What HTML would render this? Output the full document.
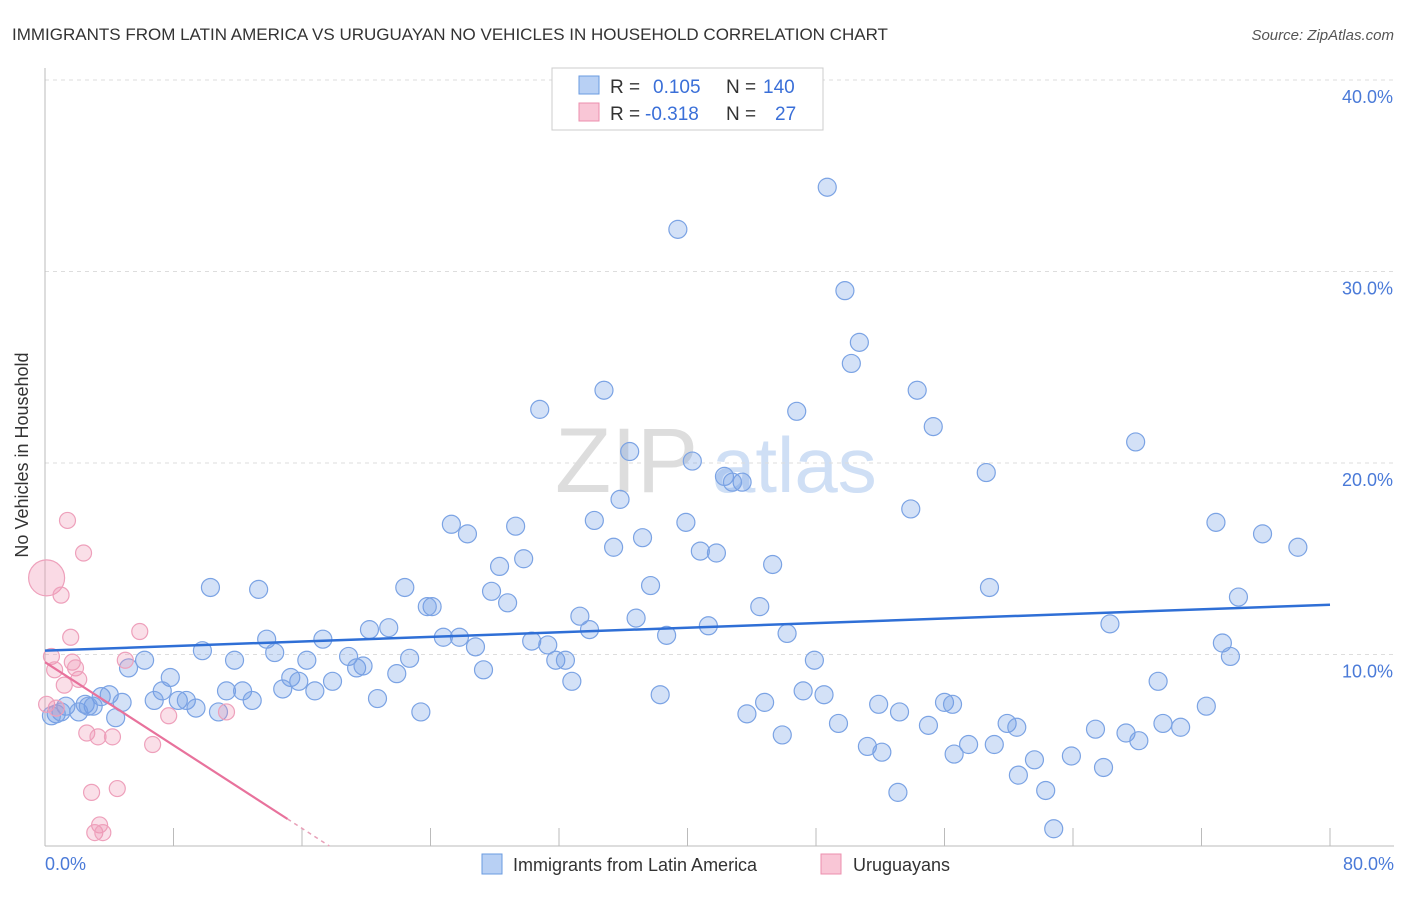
<!DOCTYPE html>
<html><head><meta charset="utf-8">
<style>
body{margin:0;background:#fff;font-family:"Liberation Sans",sans-serif;}
svg text{font-family:"Liberation Sans",sans-serif;}
</style></head>
<body>
<svg id="chart" width="1406" height="892" xmlns="http://www.w3.org/2000/svg">
<text x="12" y="40" font-size="17" fill="#333">IMMIGRANTS FROM LATIN AMERICA VS URUGUAYAN NO VEHICLES IN HOUSEHOLD CORRELATION CHART</text>
<text x="1394" y="40" font-size="15" fill="#555" text-anchor="end" font-style="italic">Source: ZipAtlas.com</text>
<text x="555" y="492" font-size="92" fill="#ddd" font-family="Liberation Serif">ZIP</text>
<text x="712" y="492" font-size="78" fill="#cfdff5">atlas</text>
<g id="grid"></g>
<g id="axes"></g>
<g id="pts"></g>
<g id="trends"></g>
<text x="28" y="455" font-size="18" fill="#333" text-anchor="middle" transform="rotate(-90 28 455)">No Vehicles in Household</text>
<text x="45" y="870" font-size="18" fill="#4a7ad8">0.0%</text>
<text x="1394" y="870" font-size="18" fill="#4a7ad8" text-anchor="end">80.0%</text>
<g>
<rect x="552" y="68" width="271" height="62" fill="#fff" stroke="#ccc"/>
<rect x="579" y="76" width="20" height="18" fill="#b8d0f4" stroke="#6a9be0"/>
<rect x="579" y="103" width="20" height="18" fill="#f9c6d6" stroke="#ec8fae"/>
<text x="610" y="93" font-size="19" fill="#333">R = </text><text x="653" y="93" font-size="19" fill="#3a6fd8">0.105</text>
<text x="726" y="93" font-size="19" fill="#333">N = </text><text x="763" y="93" font-size="19" fill="#3a6fd8">140</text>
<text x="610" y="120" font-size="19" fill="#333">R = </text><text x="645" y="120" font-size="19" fill="#3a6fd8">-0.318</text>
<text x="726" y="120" font-size="19" fill="#333">N = </text><text x="775" y="120" font-size="19" fill="#3a6fd8">27</text>
</g>
<g>
<rect x="482" y="854" width="20" height="20" fill="#b8d0f4" stroke="#6a9be0"/>
<text x="513" y="871" font-size="18" fill="#333">Immigrants from Latin America</text>
<rect x="821" y="854" width="20" height="20" fill="#f9c6d6" stroke="#ec8fae"/>
<text x="853" y="871" font-size="18" fill="#333">Uruguayans</text>
</g>
</svg>
<script>
const yTicks=[10,20,30,40];
const xTickCount=10;
const blueX=[48.7,39.4,49.8,50.7,50.2,54.3,34.8,46.8,30.8,55.3,67.9,36.4,40.3,42.3,43.4,42.8,58.6,35.8,53.9,25.3,26.3,29.3,34.2,39.9,72.9,75.8,78.0,37.2,35.4,40.8,41.8,29.8,28.3,45.3,22.4,10.3,13.3,37.7,58.8,27.8,24.1,23.8,28.8,74.3,44.5,33.3,36.8,21.4,20.2,33.9,41.3,66.3,13.8,17.3,24.8,25.8,30.3,38.7,46.2,26.8,31.3,73.3,9.8,14.3,18.9,73.8,11.8,16.3,19.4,19.8,22.7,31.8,32.4,47.9,6.2,5.2,27.3,21.9,7.8,15.3,15.8,17.9,32.8,69.3,7.3,11.3,12.3,14.8,16.8,47.2,48.5,38.3,20.7,6.8,8.3,8.8,12.9,3.5,4.0,4.8,2.5,3.0,1.3,0.7,1.0,9.4,10.8,23.4,44.8,51.9,53.2,56.0,56.5,43.7,72.3,69.6,70.7,59.9,60.5,55.0,49.4,45.9,65.4,67.3,68.1,57.5,59.1,51.2,52.1,56.6,61.6,63.9,65.9,60.6,53.1,62.3,62.8,4.4,0.4,2.1,2.7];
const blueY=[34.4,32.2,29.0,26.3,25.2,23.8,23.8,22.7,22.8,21.9,21.1,20.6,20.1,19.3,19.0,19.0,19.5,18.1,17.6,16.8,16.3,16.7,17.0,16.9,16.9,16.3,15.6,16.1,15.6,15.4,15.3,15.0,14.6,14.7,13.5,13.5,13.4,13.6,13.5,13.3,12.5,12.5,12.7,13.0,12.5,12.0,11.9,11.4,11.3,11.3,11.5,11.6,10.8,10.8,10.9,10.9,10.7,11.0,11.1,10.4,10.5,10.6,10.2,10.1,9.9,9.9,9.7,9.7,9.3,9.4,9.8,9.7,9.7,9.7,9.7,9.3,9.2,9.0,8.8,8.8,8.6,8.6,8.6,8.6,8.1,8.1,8.1,8.2,8.1,8.1,7.9,7.9,7.7,7.6,7.6,7.6,7.6,7.8,7.9,7.5,7.4,7.3,7.3,6.9,7.0,7.2,7.0,7.0,7.5,7.4,7.0,7.5,7.4,6.9,7.3,6.4,6.2,6.4,6.2,6.3,6.4,5.8,6.1,5.9,5.5,5.3,5.3,5.2,4.9,4.8,4.5,4.7,4.1,3.7,2.8,2.9,0.9,6.7,6.8,7.0,7.3];
const pinkX=[1.4,2.4,1.0,1.6,5.9,0.4,1.7,1.9,0.6,5.0,2.1,1.2,0.1,0.7,7.7,11.3,2.6,3.3,4.2,6.7,2.9,4.5,3.4,3.1,3.6];
const pinkY=[17.0,15.3,13.1,10.9,11.2,9.9,9.6,9.3,9.2,9.7,8.7,8.4,7.4,7.2,6.8,7.0,5.9,5.7,5.7,5.3,2.8,3.0,1.1,0.7,0.7];
const bigPink=[0.1,14.0];
const blueTrend=[10.2,12.6];
const pinkTrend=[9.6,-0.318];
const X0=45,X1=1330,Y0=846,Y1=80;
const sx=v=>X0+v/80*(X1-X0);
const sy=v=>Y0-v/40*(Y0-Y1);
const NS="http://www.w3.org/2000/svg";
function mk(tag,attrs,parent){const e=document.createElementNS(NS,tag);for(const k in attrs)e.setAttribute(k,attrs[k]);document.getElementById(parent).appendChild(e);return e;}
yTicks.forEach(t=>{
 const g=mk('line',{x1:45,x2:1394,y1:sy(t),y2:sy(t),stroke:'#ddd','stroke-dasharray':'4,4'},'grid');
 
 
 const l=mk('text',{x:1393,y:sy(t)+23,'font-size':18,fill:'#4a7ad8','text-anchor':'end'},'grid');
 l.textContent=t.toFixed(1)+'%';
 
 
});
const ax=mk('line',{x1:45,x2:45,y1:68,y2:846,stroke:'#bbb'},'axes');


const bx=mk('line',{x1:45,x2:1394,y1:846,y2:846,stroke:'#bbb'},'axes');


for(let i=0;i<=xTickCount;i++){
 const v=i*80/xTickCount;
 const t=mk('line',{x1:sx(v),x2:sx(v),y1:828,y2:846,stroke:'#bbb'},'axes');
 
 
}
blueX.forEach((x,i)=>{
 const c=mk('circle',{cx:sx(x),cy:sy(blueY[i]),r:9,fill:'rgba(110,155,230,0.3)',stroke:'#7ba3e4','stroke-width':1.2},'pts');
 
 
});
const bp=mk('circle',{cx:sx(bigPink[0]),cy:sy(bigPink[1]),r:18,fill:'rgba(240,150,180,0.35)',stroke:'#eea0bb','stroke-width':1.2},'pts');


pinkX.forEach((x,i)=>{
 const c=mk('circle',{cx:sx(x),cy:sy(pinkY[i]),r:8,fill:'rgba(240,150,180,0.3)',stroke:'#eea0bb','stroke-width':1.2},'pts');
 
 
});
const bt=mk('line',{x1:sx(0),y1:sy(blueTrend[0]),x2:sx(80),y2:sy(blueTrend[1]),stroke:'#2f6fd6','stroke-width':2.5},'trends');


const slope=pinkTrend[1]*0+(-(pinkTrend[0])/17.7);
const xs=15.1;
const pt=mk('line',{x1:sx(0),y1:sy(pinkTrend[0]),x2:sx(xs),y2:sy(pinkTrend[0]+slope*xs),stroke:'#e8729c','stroke-width':2.2},'trends');


const pd=mk('line',{x1:sx(xs),y1:sy(pinkTrend[0]+slope*xs),x2:sx(17.7),y2:sy(0),stroke:'#e8a0b8','stroke-width':1.5,'stroke-dasharray':'4,4'},'trends');


</script>
</body></html>
